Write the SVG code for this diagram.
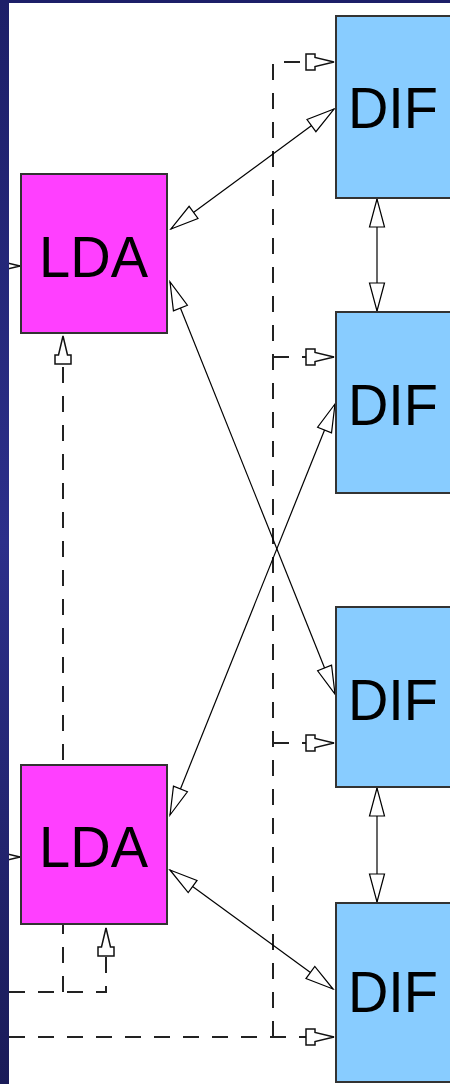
<svg xmlns="http://www.w3.org/2000/svg" width="450" height="1084" viewBox="0 0 450 1084">
<defs>
<linearGradient id="bg" x1="0" y1="0" x2="0" y2="1">
<stop offset="0" stop-color="#1d1f68"/>
<stop offset="0.5" stop-color="#2c2f8a"/>
<stop offset="1" stop-color="#1a1b58"/>
</linearGradient>
<marker id="ah" markerUnits="userSpaceOnUse" markerWidth="32" markerHeight="20" viewBox="-30 -10 32 20" refX="0" refY="0" orient="auto-start-reverse">
<path d="M0,0 L-28,-7.5 L-28,7.5 Z" fill="#fff" stroke="#000" stroke-width="1.2"/>
</marker>
<marker id="dh" markerUnits="userSpaceOnUse" markerWidth="32" markerHeight="20" viewBox="-30 -10 32 20" refX="0" refY="0" orient="auto">
<path d="M0,0 L-19,-4.5 L-19,-8 L-28,-8 L-28,8 L-19,8 L-19,4.5 Z" fill="#fff" stroke="#111" stroke-width="1.5"/>
</marker>
<style>
.solid{fill:none;stroke:#000;stroke-width:1.2}
.dash{fill:none;stroke:#222;stroke-width:2;stroke-dasharray:16 13}
.lda rect{fill:#ff3fff;stroke:#333;stroke-width:2}
.dif rect{fill:#88ccff;stroke:#333;stroke-width:2}
.lbl{font-family:"Liberation Sans",Arial,sans-serif;fill:#000}
</style>
</defs>
<rect x="0" y="0" width="450" height="1084" fill="#fff"/>
<g id="connectors">
<path class="dash" d="M273,1037 V62 H334" marker-end="url(#dh)"/>
<path class="dash" d="M273,357 H334" marker-end="url(#dh)"/>
<path class="dash" d="M273,743 H334" marker-end="url(#dh)"/>
<path class="dash" d="M9,1037 H334" marker-end="url(#dh)"/>
<path class="dash" d="M9,992 H106 V928" marker-end="url(#dh)"/>
<path class="dash" d="M63,992 V336" marker-end="url(#dh)"/>
<path class="dash" d="M-20,266 H20" marker-end="url(#dh)"/>
<path class="dash" d="M-20,857 H20" marker-end="url(#dh)"/>
<path class="solid" d="M171,229 L334,109" marker-start="url(#ah)" marker-end="url(#ah)"/>
<path class="solid" d="M170,282 L335,694" marker-start="url(#ah)" marker-end="url(#ah)"/>
<path class="solid" d="M170,815 L335,404" marker-start="url(#ah)" marker-end="url(#ah)"/>
<path class="solid" d="M170,870 L333,989" marker-start="url(#ah)" marker-end="url(#ah)"/>
<path class="solid" d="M377,199 L377,311" marker-start="url(#ah)" marker-end="url(#ah)"/>
<path class="solid" d="M377,788 L377,902" marker-start="url(#ah)" marker-end="url(#ah)"/>
</g>
<g id="lda1" class="lda"><rect x="21" y="174" width="146" height="159"/><text class="lbl" x="39" y="277" font-size="58" textLength="109" lengthAdjust="spacingAndGlyphs">LDA</text></g>
<g id="lda2" class="lda"><rect x="21" y="765" width="146" height="159"/><text class="lbl" x="39" y="867" font-size="58" textLength="109" lengthAdjust="spacingAndGlyphs">LDA</text></g>
<g id="dif1" class="dif"><rect x="336" y="16" width="130" height="182"/><text class="lbl" x="348" y="128" font-size="57" textLength="90" lengthAdjust="spacingAndGlyphs">DIF</text></g>
<g id="dif2" class="dif"><rect x="336" y="312" width="130" height="181"/><text class="lbl" x="348" y="425" font-size="57" textLength="90" lengthAdjust="spacingAndGlyphs">DIF</text></g>
<g id="dif3" class="dif"><rect x="336" y="607" width="130" height="180"/><text class="lbl" x="348" y="720" font-size="57" textLength="90" lengthAdjust="spacingAndGlyphs">DIF</text></g>
<g id="dif4" class="dif"><rect x="336" y="903" width="130" height="179"/><text class="lbl" x="348" y="1012" font-size="57" textLength="90" lengthAdjust="spacingAndGlyphs">DIF</text></g>
<rect x="0" y="0" width="9" height="1084" fill="url(#bg)"/>
<rect x="0" y="0" width="450" height="3" fill="#1d1f68"/>
</svg>
